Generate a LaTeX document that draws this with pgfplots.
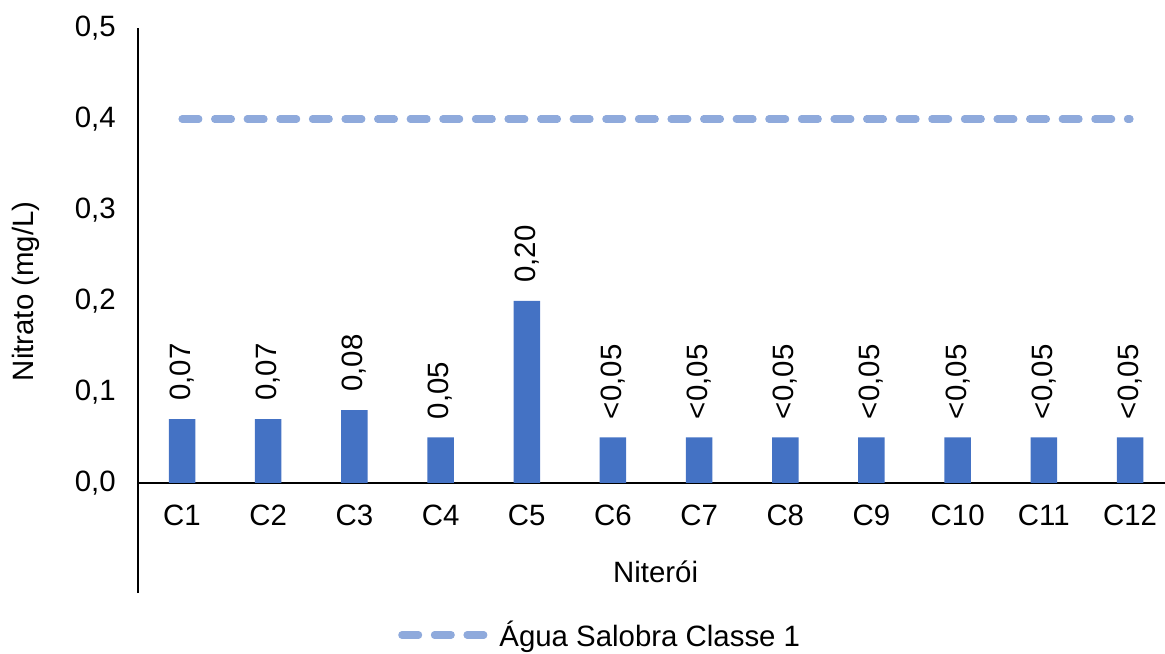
\documentclass[border=0pt]{standalone}
\usepackage{fontspec}
\setmainfont{Liberation Sans}
\usepackage{pgfplots}
\usepackage{pgfplotstable}
\pgfplotsset{compat=1.18}
\definecolor{barblue}{HTML}{4472C4}
\definecolor{lineblue}{HTML}{8FAADC}
\pgfplotstableread{
x y lab
1 0.07 0,07
2 0.07 0,07
3 0.08 0,08
4 0.05 0,05
5 0.20 0,20
6 0.05 <0,05
7 0.05 <0,05
8 0.05 <0,05
9 0.05 <0,05
10 0.05 <0,05
11 0.05 <0,05
12 0.05 <0,05
}\bardata
\begin{document}
\begin{tikzpicture}
\useasboundingbox (-69pt,-30pt) rectangle (513.5pt,296.5pt);
\begin{axis}[
  at={(0,0)}, anchor=south west,
  scale only axis, width=513.5pt, height=282.5pt,
  font=\fontsize{14.7}{17.6}\selectfont,
  xmin=0.489, xmax=12.406,
  ymin=-0.121, ymax=0.5,
  axis y line=left, axis x line=middle,
  axis line style={-, line width=1pt, black},
  hide obscured x ticks=false, hide obscured y ticks=false,
  major tick length=0pt,
  xtick={1,...,12},
  xticklabels={C1,C2,C3,C4,C5,C6,C7,C8,C9,C10,C11,C12},
  xticklabel style={anchor=north, yshift=-7.6pt},
  ytick={0,0.1,0.2,0.3,0.4,0.5},
  yticklabel style={anchor=east, xshift=-7.6pt,
    /pgf/number format/.cd, fixed, fixed zerofill, precision=1, use comma, assume math mode=true},
  ylabel={Nitrato (mg/L)},
  ylabel style={at={(axis description cs:-0.109,0.534)}, anchor=center, rotate=0},
  xlabel={Niterói},
  xlabel style={at={(axis description cs:0.504,0.038)}, anchor=center},
  legend style={draw=none, fill=none, at={(axis description cs:0.451,-0.0743)}, anchor=center,
    font=\fontsize{14.7}{17.6}\selectfont},
  legend image code/.code={\draw[#1] (0pt,0pt) -- (41.2pt,0pt); \path (45pt,0pt);},
  clip=false,
]
\addplot[ybar, bar width=13.25pt, fill=barblue, draw=none,
  point meta=explicit symbolic,
  nodes near coords={\pgfplotspointmeta},
  every node near coord/.append style={rotate=90, anchor=west, inner xsep=9pt, black,
    font=\fontsize{14.7}{17.6}\selectfont},
  forget plot] table[x=x, y=y, meta=lab] {\bardata};
\addplot[color=lineblue, line width=3.6pt, line cap=round, dash pattern=on 8.4pt off 7.9pt]
  coordinates {(1,0.4) (12,0.4)};
\addlegendentry{Água Salobra Classe 1}
\end{axis}
\end{tikzpicture}
\end{document}
